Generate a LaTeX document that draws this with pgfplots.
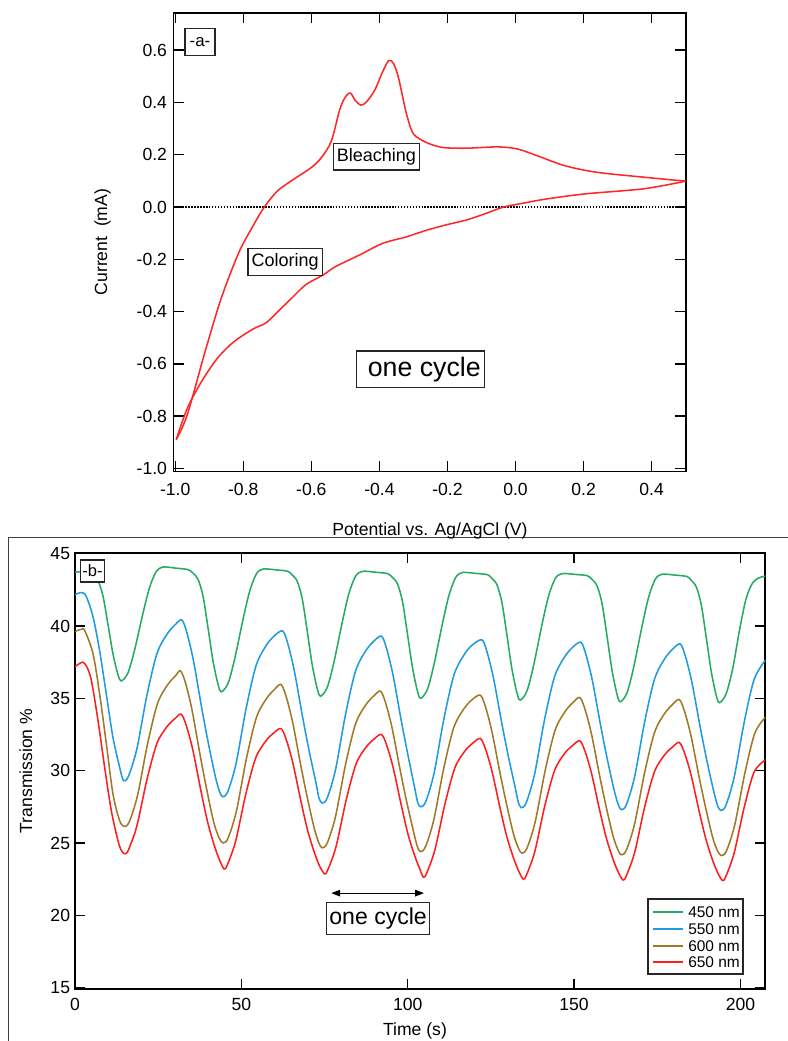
\documentclass[border=0pt]{standalone}
\usepackage{fontspec}
\setmainfont{Liberation Sans}
\usepackage{pgfplots}
\pgfplotsset{compat=1.18}
\usetikzlibrary{arrows.meta}

\definecolor{cvred}{RGB}{255,40,40}
\definecolor{c450}{RGB}{38,170,100}
\definecolor{c550}{RGB}{30,155,225}
\definecolor{c600}{RGB}{160,120,40}
\definecolor{c650}{RGB}{255,30,30}

\pgfplotsset{
  panel/.style={
    scale only axis,
    tick align=inside,
    major tick length=2.6mm,
    axis line style={line width=1.4pt},
    every tick/.style={black, line width=1pt},
    xticklabel pos=lower, yticklabel pos=left,
    tick label style={font=\fontsize{12.5}{15}\selectfont},
    /pgf/number format/assume math mode=true,
  },
  wave/.style={draw=#1, line width=1.1pt, smooth},
}
\tikzset{
  boxlabel/.style={draw=black!85, fill=white, line width=0.9pt, inner sep=0pt, align=center},
  legtext/.style={anchor=west, inner sep=0pt, font=\fontsize{11}{12}\selectfont},
  legline/.style={draw=#1, line width=0.5mm},
}

\begin{document}
\begin{tikzpicture}
% pixel grid of the reference (1 px = 0.25 mm)
\begin{scope}[x=0.25mm,y=-0.25mm]
  \useasboundingbox (0,0) rectangle (788,1041);
  \coordinate (pa) at (173.5,471.5);
  \coordinate (pb) at (75,989);
  \draw[black!75, line width=0.7pt] (8.5,1041) -- (8.5,537) -- (788,537);
  \node[rotate=90, anchor=base, font=\fontsize{12.5}{15}\selectfont] at (107,242) {Current\ \ (mA)};
  \node[anchor=base, font=\fontsize{12.5}{15}\selectfont] at (430,535) {Potential vs. Ag/AgCl (V)};
  \node[rotate=90, anchor=base, font=\fontsize{12.5}{15}\selectfont] at (32,771) {Transmission \%};
  \node[anchor=base, font=\fontsize{12.5}{15}\selectfont] at (415,1035) {Time (s)};
\end{scope}

% -a- cyclic voltammogram
\begin{axis}[panel,
  at={(pa)}, anchor=south west,
  width=128.05mm, height=114.6mm,
  xmin=-1.005, xmax=0.5, ymin=-1.012, ymax=0.742,
  xtick={-1.0,-0.8,-0.6,-0.4,-0.2,0,0.2,0.4},
  ytick={-1.0,-0.8,-0.6,-0.4,-0.2,0,0.2,0.4,0.6},
  /pgf/number format/.cd, fixed, fixed zerofill, precision=1, /pgfplots/.cd,
  xticklabel style={yshift=-1.7mm},
  yticklabel style={xshift=-0.4mm},
]
\addplot[black, densely dotted, line width=1.1pt] coordinates {(-1.005,0) (0.5,0)};
% anodic sweep
\addplot[draw=cvred, line width=1.1pt, smooth] coordinates {
(-0.997,-0.89) (-0.965,-0.797) (-0.913,-0.557) (-0.866,-0.354) (-0.814,-0.177)
(-0.773,-0.076) (-0.738,0.0) (-0.698,0.063) (-0.645,0.112) (-0.599,0.152)
(-0.570,0.19) (-0.541,0.253) (-0.516,0.375) (-0.498,0.425) (-0.485,0.436)
(-0.472,0.41) (-0.455,0.39) (-0.438,0.402) (-0.413,0.449) (-0.390,0.519)
(-0.372,0.561) (-0.358,0.548) (-0.345,0.50) (-0.333,0.43) (-0.320,0.354)
(-0.30,0.28) (-0.262,0.247) (-0.215,0.228) (-0.145,0.225) (-0.052,0.230)
(0.006,0.222) (0.064,0.196) (0.145,0.158) (0.238,0.133) (0.378,0.114) (0.5,0.099)};
% cathodic sweep
\addplot[draw=cvred, line width=1.1pt, smooth] coordinates {
(0.5,0.099) (0.378,0.07) (0.203,0.05) (0.087,0.03) (0.02,0.014) (-0.035,0.0)
(-0.09,-0.026) (-0.145,-0.05) (-0.203,-0.068) (-0.262,-0.089) (-0.320,-0.114)
(-0.390,-0.139) (-0.459,-0.184) (-0.529,-0.228) (-0.564,-0.259) (-0.616,-0.297)
(-0.657,-0.348) (-0.692,-0.392) (-0.733,-0.443) (-0.773,-0.468) (-0.831,-0.519)
(-0.878,-0.582) (-0.924,-0.671) (-0.965,-0.772) (-0.997,-0.89)};
\node[boxlabel, minimum width=7.5mm, minimum height=6.7mm, font=\fontsize{12}{14}\selectfont] at (axis cs:-0.927,0.632) {-a-};
\node[boxlabel, minimum width=21.6mm, minimum height=6.7mm, font=\fontsize{12.8}{15}\selectfont] at (axis cs:-0.409,0.193) {Bleaching};
\node[boxlabel, minimum width=18.5mm, minimum height=6.7mm, font=\fontsize{12.8}{15}\selectfont] at (axis cs:-0.677,-0.21) {Coloring};
\node[boxlabel, minimum width=32mm, minimum height=9.15mm, font=\fontsize{19}{22}\selectfont] at (axis cs:-0.279,-0.621) {\ one cycle};
\end{axis}

% -b- transmission
\begin{axis}[panel,
  at={(pb)}, anchor=south west,
  width=172.6mm, height=109mm,
  xmin=0, xmax=207.5, ymin=14.9, ymax=45.05,
  xtick={0,50,100,150,200},
  ytick={15,20,25,30,35,40,45},
  xticklabel style={yshift=-1.1mm},
]
% 450 nm
\addplot[wave=c450] coordinates {
(0,43.72) (2,43.75) (4,43.65) (5.4,43.52) (6.9,43.15) (8.4,42.09) (9.9,40.13) (11.4,38.09) (12.9,36.65) (13.9,36.2)
(15.9,36.75) (17.9,38.33) (20.4,40.85) (22.4,42.66) (24.4,43.76) (26.4,44.08) (30.4,44.0) (34.0,43.9)
(35.5,43.65) (37.0,43.22) (38.5,42.04) (40.0,39.84) (41.5,37.56) (43.0,35.96) (44.0,35.45)
(46.0,36.04) (48.0,37.74) (50.5,40.46) (52.5,42.41) (54.5,43.6) (56.5,43.94) (60.5,43.88) (64.0,43.78)
(65.3,43.52) (66.8,43.09) (68.3,41.88) (69.8,39.64) (71.3,37.31) (72.8,35.67) (73.8,35.15)
(75.8,35.75) (77.8,37.48) (80.3,40.24) (82.3,42.23) (84.3,43.43) (86.3,43.78) (90.3,43.72) (94.0,43.62)
(95.4,43.36) (96.9,42.93) (98.4,41.72) (99.9,39.48) (101.4,37.16) (102.9,35.52) (103.9,35.0)
(105.9,35.61) (107.9,37.35) (110.4,40.13) (112.4,42.13) (114.4,43.35) (116.4,43.7) (120.4,43.64) (124.0,43.55)
(125.3,43.29) (126.8,42.86) (128.3,41.64) (129.8,39.39) (131.3,37.05) (132.8,35.4) (133.8,34.88)
(135.8,35.49) (137.8,37.24) (140.3,40.04) (142.3,42.05) (144.3,43.27) (146.3,43.62) (150.3,43.57) (154.0,43.48)
(155.4,43.22) (156.9,42.78) (158.4,41.56) (159.9,39.29) (161.4,36.94) (162.9,35.28) (163.9,34.76)
(165.9,35.38) (167.9,37.14) (170.4,39.96) (172.4,41.99) (174.4,43.23) (176.4,43.58) (180.4,43.52) (184.0,43.42)
(185.2,43.16) (186.7,42.72) (188.2,41.5) (189.7,39.23) (191.2,36.88) (192.7,35.22) (193.7,34.7)
(195.7,35.32) (197.7,37.09) (199.7,39.7) (201.7,41.9) (203.7,43.0) (205.7,43.35) (207.5,43.45)};
% 550 nm
\addplot[wave=c550] coordinates {
(0,42.16) (1.2,42.28) (2.3,42.3) (3.4,42.04) (5.4,40.65) (7.4,38.3) (9.4,35.3) (11.4,32.3) (13.4,30.25) (14.6,29.3)
(16.1,29.63) (18.6,31.52) (21.6,35.19) (24.6,38.08) (27.6,39.42) (30.1,40.09) (32.1,40.42)
(33.6,39.56) (35.6,37.61) (38.1,34.31) (40.1,31.87) (42.1,29.67) (43.4,28.57) (44.4,28.2)
(45.9,28.54) (48.4,30.49) (51.4,34.27) (54.4,37.25) (57.4,38.63) (59.9,39.32) (62.4,39.66)
(63.9,38.83) (65.9,36.92) (68.4,33.71) (70.4,31.33) (72.4,29.19) (73.3,28.12) (74.3,27.76)
(75.8,28.11) (78.3,30.07) (81.3,33.88) (84.3,36.88) (87.3,38.26) (89.8,38.95) (92.1,39.3)
(93.6,38.47) (95.6,36.59) (98.1,33.4) (100.1,31.04) (102.1,28.8) (103.0,27.8) (103.9,27.5)
(105.4,27.85) (107.9,29.81) (110.9,33.62) (113.9,36.62) (116.9,38.0) (119.4,38.69) (122.3,39.04)
(123.8,38.23) (125.8,36.37) (128.3,33.24) (130.3,30.92) (132.3,28.83) (133.2,27.85) (134.1,27.44)
(135.6,27.78) (138.1,29.73) (141.1,33.5) (144.1,36.48) (147.1,37.85) (149.6,38.54) (152.0,38.88)
(153.5,38.07) (155.5,36.22) (158.0,33.09) (160.0,30.77) (162.0,28.69) (163.2,27.7) (164.2,27.3)
(165.7,27.64) (168.2,29.59) (171.2,33.37) (174.2,36.35) (177.2,37.73) (179.7,38.42) (181.9,38.76)
(183.4,37.95) (185.4,36.11) (187.9,33.01) (189.9,30.7) (191.9,28.63) (193.1,27.6) (194.1,27.25)
(195.6,27.59) (198.1,29.54) (201.1,33.32) (204.1,36.3) (207.5,37.65)};
% 600 nm
\addplot[wave=c600] coordinates {
(0,39.6) (1,39.72) (2.0,39.78) (2.9,39.7) (5.4,38.1) (7.4,35.3) (9.4,31.9) (11.4,28.4) (13.4,26.55) (14.8,26.14)
(16.3,26.46) (18.8,28.29) (21.8,31.84) (24.8,34.64) (27.8,35.93) (30.3,36.58) (31.7,36.9)
(33.2,36.07) (35.2,34.16) (37.7,30.95) (39.7,28.57) (41.7,26.43) (43.3,25.36) (44.5,25.0)
(46.0,25.33) (48.5,27.19) (51.5,30.81) (54.5,33.66) (57.5,34.97) (60.0,35.63) (61.9,35.96)
(63.4,35.17) (65.4,33.36) (67.9,30.31) (69.9,28.05) (71.9,26.02) (73.3,25.0) (74.3,24.66)
(75.8,24.99) (78.3,26.83) (81.3,30.41) (84.3,33.22) (87.3,34.52) (89.8,35.17) (91.8,35.5)
(93.3,34.72) (95.3,32.95) (97.8,29.95) (99.8,27.73) (101.8,25.73) (102.9,24.75) (103.8,24.4)
(105.3,24.72) (107.8,26.56) (110.8,30.13) (113.8,32.95) (116.8,34.25) (119.3,34.9) (121.8,35.22)
(123.3,34.46) (125.3,32.71) (127.8,29.76) (129.8,27.58) (131.8,25.61) (133.3,24.63) (134.3,24.3)
(135.8,24.62) (138.3,26.45) (141.3,30.0) (144.3,32.8) (147.3,34.09) (149.8,34.74) (151.7,35.06)
(153.2,34.3) (155.2,32.56) (157.7,29.62) (159.7,27.44) (161.7,25.49) (163.2,24.51) (164.2,24.18)
(165.7,24.5) (168.2,26.33) (171.2,29.87) (174.2,32.66) (177.2,33.95) (179.7,34.6) (181.6,34.92)
(183.1,34.16) (185.1,32.44) (187.6,29.53) (189.6,27.37) (191.6,25.42) (193.1,24.45) (194.3,24.13)
(195.8,24.45) (198.3,26.27) (201.3,29.8) (204.3,32.58) (207.5,33.7)};
% 650 nm
\addplot[wave=c650] coordinates {
(0,37.19) (1,37.35) (2.3,37.5) (3.5,37.2) (4.9,36.26) (6.9,33.49) (8.9,30.25) (10.9,27.25) (12.9,25.17) (14.0,24.45) (15.1,24.25)
(16.1,24.54) (18.6,26.18) (21.6,29.36) (24.6,31.87) (27.6,33.03) (30.1,33.61) (31.9,33.9)
(33.4,33.15) (35.4,31.44) (37.9,28.55) (39.9,26.41) (41.9,24.8) (43.4,23.84) (44.8,23.2)
(45.8,23.49) (48.3,25.14) (51.3,28.35) (54.3,30.87) (57.3,32.04) (59.8,32.62) (61.9,32.91)
(63.4,32.21) (65.4,30.6) (67.9,27.89) (69.9,25.88) (71.9,24.37) (73.4,23.46) (75.0,22.86)
(76.0,23.15) (78.5,24.79) (81.5,27.97) (84.5,30.48) (87.5,31.63) (90.0,32.21) (92.1,32.5)
(93.6,31.81) (95.6,30.23) (98.1,27.57) (100.1,25.59) (102.1,24.11) (103.6,23.22) (104.7,22.63)
(105.7,22.92) (108.2,24.55) (111.2,27.71) (114.2,30.21) (117.2,31.36) (119.7,31.93) (121.8,32.22)
(123.3,31.54) (125.3,29.98) (127.8,27.36) (129.8,25.42) (131.8,23.96) (133.3,23.08) (134.7,22.5)
(135.7,22.79) (138.2,24.41) (141.2,27.57) (144.2,30.05) (147.2,31.2) (149.7,31.77) (151.7,32.06)
(153.2,31.39) (155.2,29.85) (157.7,27.25) (159.7,25.33) (161.7,23.88) (163.2,23.02) (164.7,22.44)
(165.7,22.73) (168.2,24.34) (171.2,27.48) (174.2,29.95) (177.2,31.09) (179.7,31.66) (181.6,31.95)
(183.1,31.28) (185.1,29.75) (187.6,27.18) (189.6,25.27) (191.6,23.83) (193.1,22.97) (194.6,22.4)
(195.6,22.69) (198.1,24.3) (201.1,27.44) (204.1,29.9) (207.5,30.75)};
\draw[{Triangle[length=2.2mm,width=1.6mm]}-{Triangle[length=2.2mm,width=1.6mm]}, line width=0.9pt]
  (axis cs:77,21.53) -- (axis cs:104.9,21.53);
\node[boxlabel, minimum width=25.75mm, minimum height=8mm, font=\fontsize{16.4}{19}\selectfont] at (axis cs:91.1,19.8) {one cycle};
\node[boxlabel, minimum width=6mm, minimum height=5.5mm, font=\fontsize{11.7}{14}\selectfont] at (axis cs:5.25,43.8) {-b-};
\end{axis}

% legend of panel b, on the pixel grid
\begin{scope}[x=0.25mm,y=-0.25mm]
  \draw[draw=black!85, fill=white, line width=0.9pt] (648,899) rectangle (743,974);
  \draw[legline=c450] (653,912) -- (683,912);
  \draw[legline=c550] (653,929) -- (683,929);
  \draw[legline=c600] (653,946) -- (683,946);
  \draw[legline=c650] (653,962) -- (683,962);
  \node[legtext] at (688,912) {450 nm};
  \node[legtext] at (688,929) {550 nm};
  \node[legtext] at (688,946) {600 nm};
  \node[legtext] at (688,962) {650 nm};
\end{scope}
\end{tikzpicture}
\end{document}
